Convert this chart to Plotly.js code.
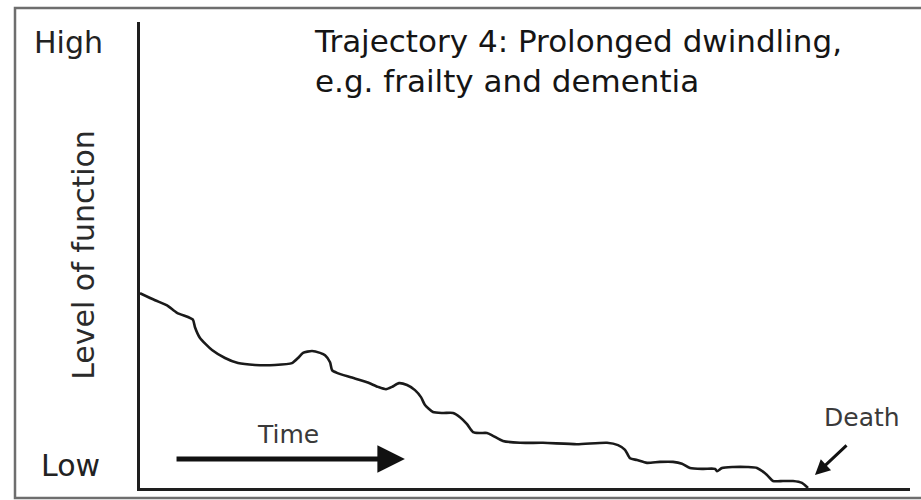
<!DOCTYPE html>
<html>
<head>
<meta charset="utf-8">
<script src="https://cdn.plot.ly/plotly-3.0.1.min.js"></script>
<style>
  html, body { margin: 0; padding: 0; background: #ffffff; }
  #chart { width: 921px; height: 500px; }
</style>
</head>
<body>
<div id="chart"></div>
<script>
// Time (0-100) and level of function (0-100)
const time = [0, 1.95, 3.51, 4.81, 6.23, 6.88, 7.14, 7.79, 9.35, 11.04, 12.73, 14.94, 17.53, 19.74,
  20.52, 21.17, 22.34, 23.38, 24.03, 24.68, 24.94, 25.58, 27.27, 29.48, 30.91, 31.95, 32.73, 33.64,
  34.68, 35.71, 36.49, 37.01, 38.05, 39.35, 40.65, 41.56, 42.47, 43.25, 44.16, 45.06, 45.84, 47.14,
  49.35, 52.34, 56.75, 60.65, 62.08, 62.99, 63.64, 64.55, 65.84, 67.53, 69.22, 70.39, 71.43, 73.12,
  74.68, 74.94, 75.58, 77.01, 78.83, 80.13, 81.43, 82.21, 83.51, 84.81, 85.97, 86.75];
const level = [41.8, 40.3, 39.2, 37.6, 36.7, 36.1, 34.5, 32.2, 29.6, 27.9, 26.8, 26.4, 26.4, 26.8,
  27.9, 29.0, 29.4, 29.0, 28.5, 27.0, 25.3, 24.7, 23.8, 22.7, 21.7, 21.2, 21.7, 22.5,
  22.1, 21.0, 19.5, 17.8, 16.3, 16.1, 16.1, 15.2, 13.7, 12.0, 11.8, 11.8, 11.2, 10.1,
  9.7, 9.7, 9.4, 9.7, 9.2, 8.2, 6.4, 6.0, 5.4, 5.6, 5.6, 5.2, 4.3, 4.1,
  4.1, 3.6, 4.3, 4.5, 4.5, 4.3, 2.8, 1.5, 1.5, 1.5, 1.1, 0];

const levelLabels = ['Low', 'High'];
const levelLabelPos = [4.9, 95.7];

const timeArrowStart = [4.55, 6.2];
const timeArrowEnd = [34.4, 6.2];
const deathArrowTail = [91.95, 9.44];
const deathArrowTip = [87.66, 2.79];

const FONT = 'DejaVu Sans, Liberation Sans, Arial, sans-serif';

const trace = {
  x: time,
  y: level,
  type: 'scatter',
  mode: 'lines',
  line: { color: '#1a1a1a', width: 2.6, shape: 'spline', smoothing: 0.6 },
  hoverinfo: 'skip',
  showlegend: false
};

const layout = {
  width: 921,
  height: 500,
  margin: { l: 140, r: 11, t: 22, b: 12 },
  paper_bgcolor: '#ffffff',
  plot_bgcolor: '#ffffff',
  showlegend: false,
  title: {
    text: 'Trajectory 4: Prolonged dwindling,<br>e.g. frailty and dementia',
    font: { family: FONT, size: 31, color: '#151515' },
    xref: 'container', x: 315 / 921, xanchor: 'left',
    yref: 'container', y: 1 - 52 / 500, yanchor: 'top'
  },
  xaxis: {
    range: [0, 100],
    showgrid: false, zeroline: false, showticklabels: false, ticks: '',
    showline: true, linecolor: '#1e1e1e', linewidth: 3, fixedrange: true
  },
  yaxis: {
    range: [0, 100],
    showgrid: false, zeroline: false, showticklabels: false, ticks: '',
    showline: true, linecolor: '#1e1e1e', linewidth: 3, fixedrange: true,
    title: { text: 'Level of function', font: { family: FONT, size: 30, color: '#2a2a2a' }, standoff: 34 }
  },
  shapes: [
    {
      type: 'rect', xref: 'paper', yref: 'paper',
      x0: (15 - 140) / 770, x1: (935 - 140) / 770,
      y0: (488 - 498) / 466, y1: (488 - 8) / 466,
      line: { color: '#6e6e6e', width: 2.5 }, fillcolor: 'rgba(0,0,0,0)'
    }
  ],
  annotations: [
    {
      text: levelLabels[1], xref: 'paper', yref: 'y', x: (68 - 140) / 770, y: levelLabelPos[1],
      xanchor: 'center', yanchor: 'middle', showarrow: false,
      font: { family: FONT, size: 30, color: '#222222' }
    },
    {
      text: levelLabels[0], xref: 'paper', yref: 'y', x: (70 - 140) / 770, y: levelLabelPos[0],
      xanchor: 'center', yanchor: 'middle', showarrow: false,
      font: { family: FONT, size: 30, color: '#222222' }
    },
    {
      text: 'Time', xref: 'x', yref: 'y', x: 19.2, y: 11.4,
      xanchor: 'center', yanchor: 'middle', showarrow: false,
      font: { family: FONT, size: 25, color: '#3a3a3a' }
    },
    {
      text: '', xref: 'x', yref: 'y', x: timeArrowEnd[0], y: timeArrowEnd[1],
      axref: 'x', ayref: 'y', ax: timeArrowStart[0], ay: timeArrowStart[1],
      showarrow: true, arrowhead: 2, arrowwidth: 5, arrowsize: 1.1, arrowcolor: '#111111', standoff: 0
    },
    {
      text: 'Death', xref: 'x', yref: 'y', x: 93.8, y: 15.1,
      xanchor: 'center', yanchor: 'middle', showarrow: false,
      font: { family: FONT, size: 25, color: '#3a3a3a' }
    },
    {
      text: '', xref: 'x', yref: 'y', x: deathArrowTip[0], y: deathArrowTip[1],
      axref: 'x', ayref: 'y', ax: deathArrowTail[0], ay: deathArrowTail[1],
      showarrow: true, arrowhead: 2, arrowwidth: 3, arrowsize: 1, arrowcolor: '#111111', standoff: 0
    }
  ]
};

Plotly.newPlot('chart', [trace], layout, { staticPlot: true, displayModeBar: false });
</script>
</body>
</html>
